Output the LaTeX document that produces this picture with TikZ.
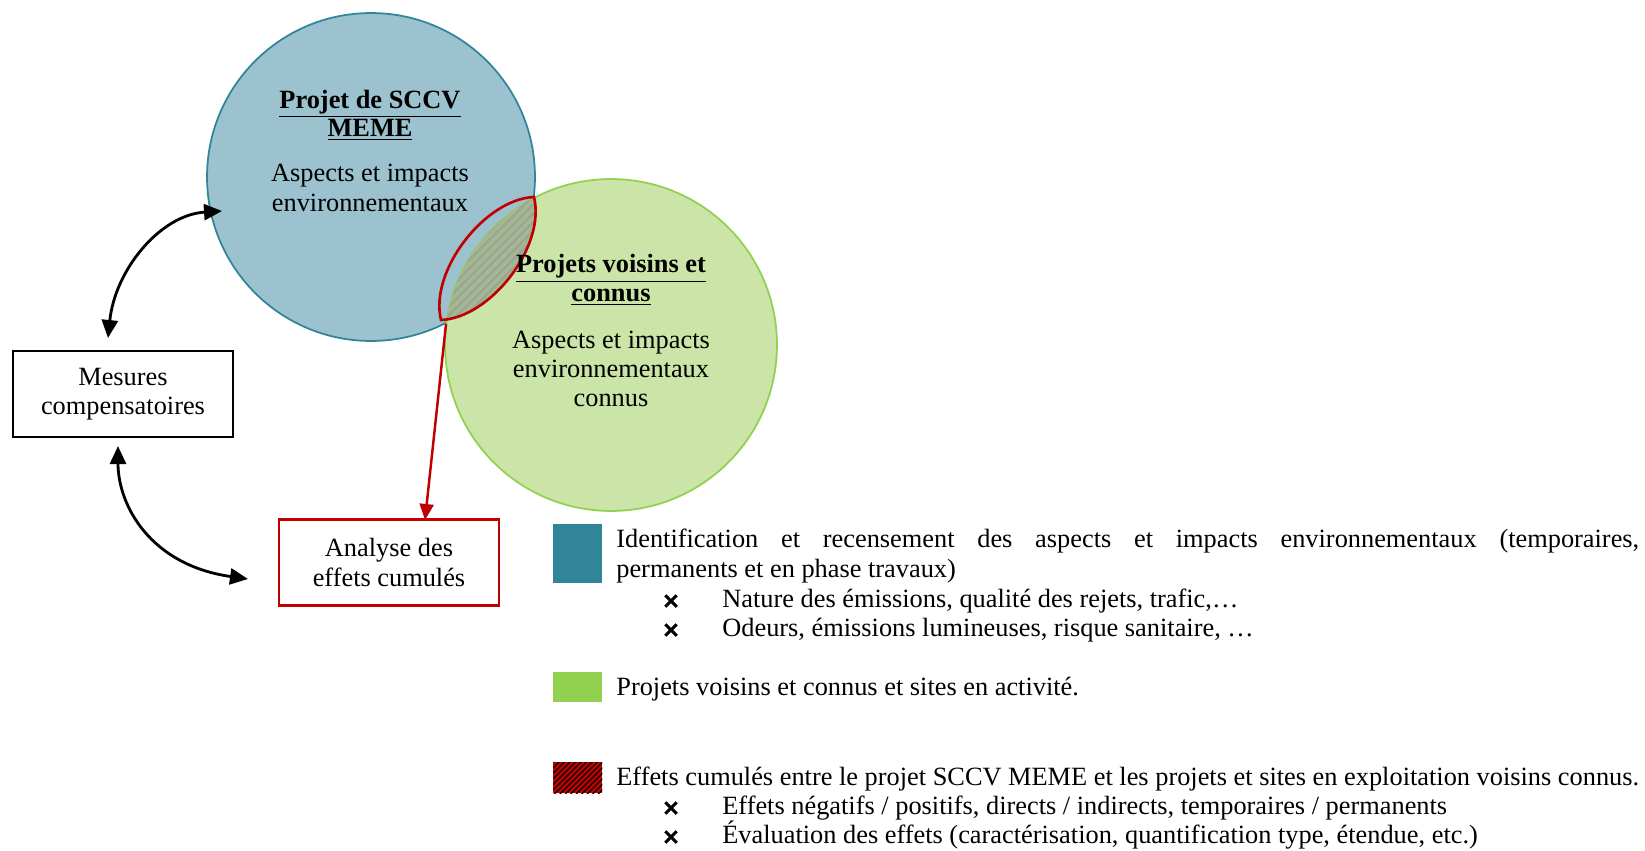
\documentclass[tikz,border=0pt]{standalone}
\usepackage{fontspec}
\setmainfont{Liberation Serif}
\usetikzlibrary{arrows.meta,patterns.meta,shapes.misc}

\definecolor{tealdark}{RGB}{49,133,155}
\definecolor{bluefill}{RGB}{155,194,206}
\definecolor{greenline}{RGB}{146,208,80}
\definecolor{greenfill}{RGB}{202,229,167}
\definecolor{darkred}{RGB}{192,0,0}
\definecolor{lensfill}{RGB}{160,186,140}

\begin{document}
\begin{tikzpicture}[x=0.02cm,y=-0.02cm,
  txt/.style={font=\fontsize{15}{16.7}\selectfont, inner sep=0pt},
  ttl/.style={font=\fontsize{15}{16.2}\selectfont\bfseries, inner sep=0pt, align=center},
  boxnode/.style={txt, draw, line width=1.2pt, minimum width=4.4cm, minimum height=1.72cm, align=center},
  dbl/.style={line width=1.6pt, {Triangle[length=0.36cm,width=0.32cm]}-{Triangle[length=0.36cm,width=0.32cm]}},
  redarr/.style={darkred, line width=1.4pt, -{Triangle[length=0.32cm,width=0.28cm]}},
  xmark/.style={draw, cross out, minimum size=0.17cm, inner sep=0pt, line width=1.7pt},
  legsq/.style={inner sep=0pt, minimum width=0.98cm}
]
\useasboundingbox (0,0) rectangle (1645,851);

% the two circles
\node[circle, draw=tealdark, fill=bluefill, line width=1pt, minimum size=6.56cm, inner sep=0pt] (proj) at (371,177) {};
\node[circle, draw=greenline, fill=greenfill, line width=1pt, minimum size=6.64cm, inner sep=0pt] (vois) at (611,345) {};

% overlap lens
\coordinate (lensA) at (534,197);
\coordinate (lensB) at (441,320);
\def\lenspath{(lensA) .. controls (485,199) and (429,271) .. (lensB) .. controls (490,318) and (546,247) .. (lensA) -- cycle}
\begin{scope}
  \clip (611,345) circle[radius=166];
  \fill[lensfill] \lenspath;
  \fill[pattern={Lines[angle=45,distance=3.5pt,line width=1.2pt]}, pattern color=gray!75] \lenspath;
\end{scope}
\draw[darkred, line width=1.5pt] \lenspath;

% circle texts
\node[ttl] (projT) at (370,115) {\underline{Projet de SCCV}\\\underline{MEME}};
\node[txt, align=center] (projB) at (370,188) {Aspects et impacts\\environnementaux};
\node[ttl] (voisT) at (611,280) {\underline{Projets voisins et}\\\underline{connus}};
\node[txt, align=center] (voisB) at (611,369) {Aspects et impacts\\environnementaux\\connus};

% boxes
\node[boxnode] (mes) at (123,394) {Mesures\\compensatoires};
\node[boxnode, draw=darkred] (ana) at (389,562.5) {Analyse des\\effets cumulés};

% connectors
\coordinate (mesTop) at (108,338);
\coordinate (projL) at (222,211);
\coordinate (mesBot) at (118,446);
\coordinate (anaL) at (248,579);
\coordinate (anaIn) at (425,520);
\coordinate (lensOut) at (446,324);
\draw[dbl] (mesTop) .. controls (115,270) and (160,215) .. (projL);
\draw[dbl] (mesBot) .. controls (118,505) and (150,565) .. (anaL);
\draw[redarr] (lensOut) -- (anaIn);

% legend
\node[legsq, fill=tealdark, minimum height=1.18cm, anchor=north west] (sq1) at (553,524) {};
\node[legsq, fill=greenline, minimum height=0.6cm, anchor=north west] (sq2) at (553,672) {};
\node[legsq, fill=darkred, minimum height=0.62cm, anchor=north west,
      postaction={pattern={Lines[angle=45,distance=2.2pt,line width=0.7pt]}, pattern color=black}] (sq3) at (553,762) {};

\node[txt, anchor=base west] (l1a) at (616,547) {\makebox[20.46cm][s]{Identification et recensement des aspects et impacts environnementaux (temporaires,}};
\node[txt, anchor=base west] (l1b) at (616,577) {permanents et en phase travaux)};
\node[xmark] (x1) at (671,601) {};
\node[txt, anchor=base west] (l1c) at (722,607) {Nature des émissions, qualité des rejets, trafic,…};
\node[xmark] (x2) at (671,630) {};
\node[txt, anchor=base west] (l1d) at (722,636) {Odeurs, émissions lumineuses, risque sanitaire, …};

\node[txt, anchor=base west] (l2) at (616,695) {Projets voisins et connus et sites en activité.};

\node[txt, anchor=base west] (l3a) at (616,785) {Effets cumulés entre le projet SCCV MEME et les projets et sites en exploitation voisins connus.};
\node[xmark] (x3) at (671,808) {};
\node[txt, anchor=base west] (l3b) at (722,814) {Effets négatifs / positifs, directs / indirects, temporaires / permanents};
\node[xmark] (x4) at (671,837) {};
\node[txt, anchor=base west] (l3c) at (722,843) {Évaluation des effets (caractérisation, quantification type, étendue, etc.)};
\end{tikzpicture}
\end{document}
